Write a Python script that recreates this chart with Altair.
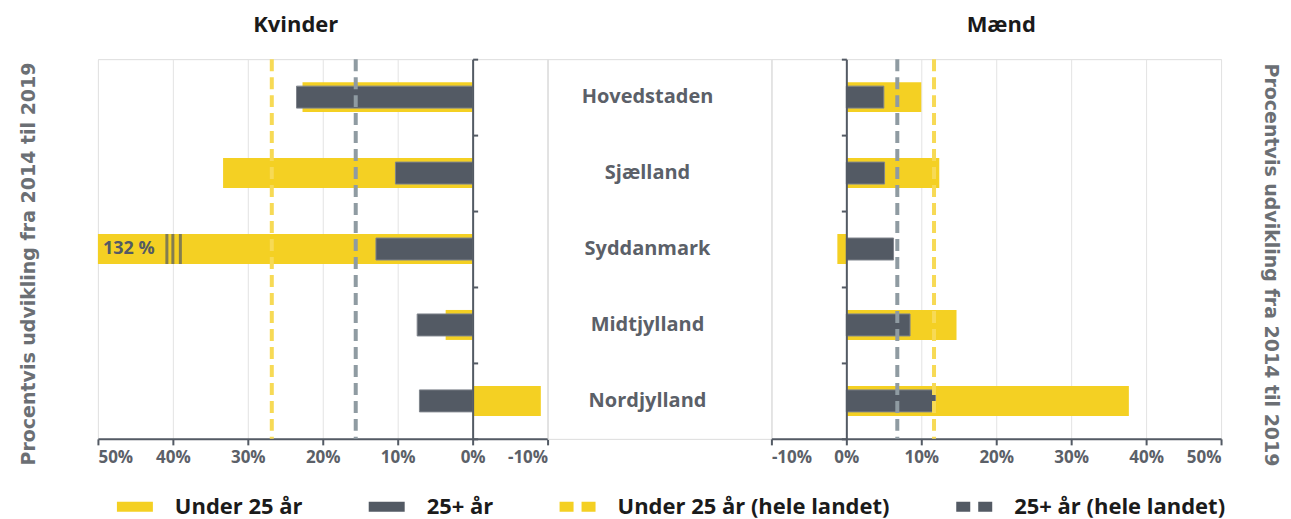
import altair as alt
import pandas as pd

# ---------------- data ----------------
regions = ["Hovedstaden", "Sjælland", "Syddanmark", "Midtjylland", "Nordjylland"]
kvinder_u25 = [22.7, 33.3, 132.0, 3.6, -9.1]
kvinder_25p = [23.5, 10.3, 12.9, 7.4, 7.1]
maend_u25 = [10.0, 12.4, -1.2, 14.7, 37.7]
maend_25p = [5.0, 5.1, 6.3, 8.5, 11.9]
kvinder_ref_u25 = [26.8]
kvinder_ref_25p = [15.6]
maend_ref_u25 = [11.7]
maend_ref_25p = [6.8]
break_region = ["Syddanmark"]
break_label = ["132 %"]
break_label_x = [50]
break_marks = [40.8, 40.0, 39.0]
tick_values = [-10, 0, 10, 20, 30, 40, 50]
legend_items = ["Under 25 år", "25+ år", "Under 25 år (hele landet)", "25+ år (hele landet)"]
y_title = ["Procentvis udvikling fra 2014 til 2019"]
panel_titles = ["Kvinder", "Mænd"]

# ---------------- style ----------------
YELLOW = "#F4D023"
DARK = "#535A64"
REF_YELLOW = "#F7DA55"
REF_GREY = "#8F9BA2"
GRID = "#E3E3E3"
LABEL_GREY = "#5B6068"
FONT = "Open Sans"

legend_colors = [YELLOW, DARK, YELLOW, DARK]
bar_shape = "M-1,-0.278H1V0.278H-1Z"
dash_shape = "M-1,-0.278H-0.222V0.278H-1ZM0.222,-0.278H1V0.278H0.222Z"
legend_shapes = [bar_shape, bar_shape, dash_shape, dash_shape]

W, H = 450, 380


def x_enc(field, reverse):
    return alt.X(
        field,
        scale=alt.Scale(domain=[-10, 50], reverse=reverse, clamp=True, nice=False),
        axis=alt.Axis(
            values=tick_values, labelExpr="datum.value + '%'", title=None,
            grid=True, gridColor=GRID, gridWidth=1,
            domainColor=DARK, domainWidth=2, tickColor=DARK, tickWidth=2, tickSize=6,
            labelFont=FONT, labelFontSize=17, labelFontWeight="bold",
            labelColor=LABEL_GREY, labelPadding=5,
        ),
    )


def y_enc(orient):
    return alt.Y(
        "region:N",
        sort=regions,
        scale=alt.Scale(domain=regions, paddingInner=0, paddingOuter=0),
        axis=alt.Axis(
            orient=orient, offset=-75, labels=False, title=None, grid=False,
            domainColor=DARK, domainWidth=2, tickColor=DARK, tickWidth=2, tickSize=5,
            tickBand="extent", zindex=1,
        ),
    )


def panel(u25, p25, ref_u25, ref_25p, reverse, orient, title, title_dx, extra=None):
    df = pd.DataFrame({"region": regions, "u25": u25, "p25": p25})
    base = alt.Chart(df)
    bars_u = base.mark_bar(size=30, color=YELLOW).encode(
        x=x_enc("u25:Q", reverse), y=y_enc(orient))
    bars_p = base.mark_bar(size=22, color=DARK, stroke="#7E848C", strokeWidth=1).encode(
        x=x_enc("p25:Q", reverse), y=y_enc(orient))
    rule_u = alt.Chart(pd.DataFrame({"v": ref_u25})).mark_rule(
        color=REF_YELLOW, strokeWidth=4, strokeDash=[12, 6]).encode(x=x_enc("v:Q", reverse))
    rule_p = alt.Chart(pd.DataFrame({"v": ref_25p})).mark_rule(
        color=REF_GREY, strokeWidth=4, strokeDash=[12, 6]).encode(x=x_enc("v:Q", reverse))
    layers = [bars_u, bars_p]
    if extra:
        layers += extra
    layers += [rule_u, rule_p]
    return alt.layer(*layers).properties(
        width=W, height=H,
        title=alt.TitleParams(title, font=FONT, fontSize=22, fontWeight="bold",
                              color="#1A1A1A", dx=title_dx, offset=20),
    )


# extras for left panel: clipped bar label and break marks
brk_df = pd.DataFrame({"region": break_region, "x": break_label_x, "label": break_label})
brk_text = alt.Chart(brk_df).mark_text(
    align="left", baseline="middle", dx=5, font=FONT, fontSize=18, fontWeight="bold", color=DARK
).encode(x=x_enc("x:Q", True), y=y_enc("right"), text="label:N")
brk_ticks = alt.Chart(pd.DataFrame({"region": break_region * len(break_marks), "x": break_marks})).mark_tick(
    size=30, thickness=3, color=DARK
).encode(x=x_enc("x:Q", True), y=y_enc("right"))

ytitle_left = alt.Chart(pd.DataFrame({"t": y_title})).mark_text(
    angle=270, font="DejaVu Sans", fontSize=19, fontWeight="bold", color="#6B6F74",
    align="center", baseline="middle"
).encode(x=alt.value(-69), y=alt.value(205), text="t:N")

legend_params = dict(
    orient="none", legendX=19, legendY=430, direction="horizontal", title=None,
    labelFont=FONT, labelFontSize=22, labelFontWeight="bold", labelColor="#1B1B1B",
    labelOffset=22, symbolSize=1296, symbolStrokeWidth=0, symbolOpacity=1,
    columnPadding=66, padding=0, labelLimit=500,
)
legend_layer = alt.Chart(pd.DataFrame({"item": legend_items})).mark_point(
    filled=True, opacity=0
).encode(
    color=alt.Color("item:N", sort=legend_items,
                    scale=alt.Scale(domain=legend_items, range=legend_colors),
                    legend=alt.Legend(**legend_params)),
    shape=alt.Shape("item:N", sort=legend_items,
                    scale=alt.Scale(domain=legend_items, range=legend_shapes),
                    legend=alt.Legend(**legend_params)),
)

left = panel(kvinder_u25, kvinder_25p, kvinder_ref_u25, kvinder_ref_25p, True, "right",
             panel_titles[0], -27, extra=[brk_text, brk_ticks, ytitle_left, legend_layer])

ytitle_right = alt.Chart(pd.DataFrame({"t": y_title})).mark_text(
    angle=90, font="DejaVu Sans", fontSize=19, fontWeight="bold", color="#6B6F74",
    align="center", baseline="middle"
).encode(x=alt.value(500), y=alt.value(206), text="t:N")

right = panel(maend_u25, maend_25p, maend_ref_u25, maend_ref_25p, False, "left",
              panel_titles[1], 5, extra=[ytitle_right])

middle = alt.Chart(pd.DataFrame({"region": regions})).mark_text(
    font=FONT, fontSize=20, fontWeight="bold", color=LABEL_GREY, align="center", baseline="middle"
).encode(
    y=alt.Y("region:N", sort=regions, scale=alt.Scale(domain=regions, paddingInner=0, paddingOuter=0), axis=None),
    x=alt.value(100),
    text="region:N",
).properties(width=224, height=H)

chart = alt.hconcat(left, middle, right, spacing=0, bounds="flush").properties(
    padding={"left": 11, "top": 5, "right": 2, "bottom": 0}
).configure_view(stroke=None).configure(background="white")

chart.save("out.html", embed_options={"renderer": "svg", "actions": False})
